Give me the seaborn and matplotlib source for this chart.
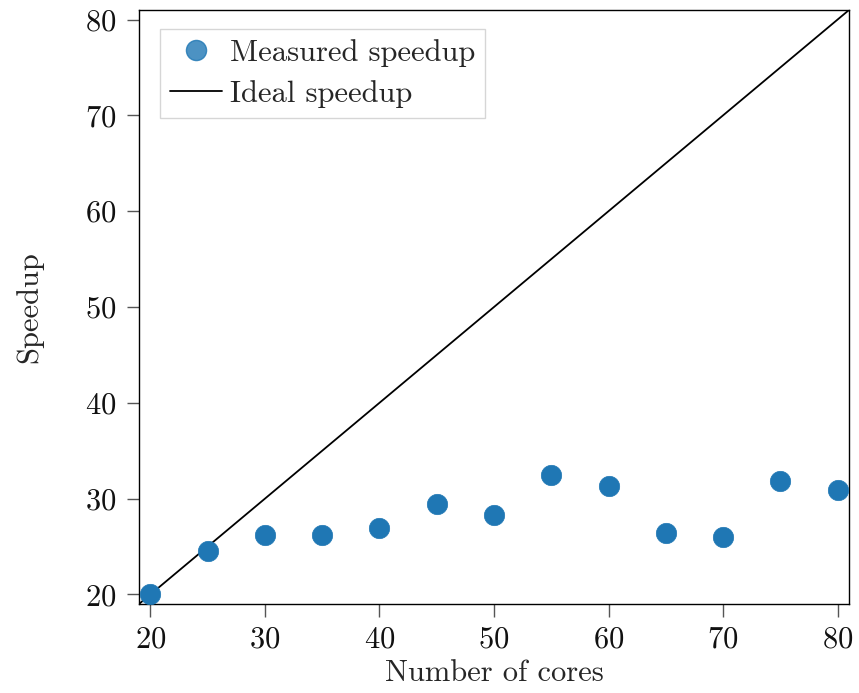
import matplotlib
matplotlib.use("Agg")
import matplotlib.pyplot as plt
import seaborn as sns
import pandas as pd
from matplotlib.lines import Line2D

cores = [20, 25, 30, 35, 40, 45, 50, 55, 60, 65, 70, 75, 80]
speedup = [20.0, 24.5, 26.15, 26.25, 26.9, 29.4, 28.3, 32.5, 31.35, 26.45, 25.95, 31.8, 30.95]
ideal_x = [19, 81]
ideal_y = [19, 81]
xticks = [20, 30, 40, 50, 60, 70, 80]
yticks = [20, 30, 40, 50, 60, 70, 80]

sns.set_theme(style="ticks")
plt.rcParams['font.family'] = ['cmr10', 'DejaVu Sans']
plt.rcParams['axes.formatter.use_mathtext'] = True
plt.rcParams['mathtext.fontset'] = 'cm'

df = pd.DataFrame({"cores": cores, "speedup": speedup})
fig = plt.figure(figsize=(8.59, 6.93), dpi=100)
ax = fig.add_axes([139/859, 1 - 604/693, 710/859, 594/693])

sns.lineplot(x=ideal_x, y=ideal_y, ax=ax, color="black", linewidth=1.3)
sns.scatterplot(data=df, x="cores", y="speedup", ax=ax, s=215, color="#1f77b4",
                edgecolor="#1f77b4", linewidth=0.5, zorder=3)

ax.set_xlim(19, 81)
ax.set_ylim(19, 81)
ax.set_xticks(xticks)
ax.set_yticks(yticks)
ax.set_xlabel("Number of cores", fontsize=22, labelpad=4)
ax.set_ylabel("Speedup", fontsize=22, labelpad=30)
ax.tick_params(axis="both", labelsize=22, length=9, width=1, color="#555555",
               labelcolor="#111111", direction="out", pad=7)
for s in ax.spines.values():
    s.set_color("black")
    s.set_linewidth(1.0)

handles = [
    Line2D([], [], marker="o", linestyle="none", markersize=14.5, markerfacecolor="#1f77b4",
           markeredgecolor="#1f77b4", alpha=0.8),
    Line2D([], [], color="black", linewidth=1.3),
]
leg = ax.legend(handles, ["Measured speedup", "Ideal speedup"], loc="upper left",
                fontsize=22, frameon=True, fancybox=False, borderpad=0.33, borderaxespad=0,
                handlelength=1.7, handletextpad=0.26, labelspacing=0.42,
                bbox_to_anchor=(21/710, (604-29)/594))
leg.get_frame().set_edgecolor("#cccccc")
leg.get_frame().set_linewidth(1.0)

fig.savefig("out.png", dpi=100)
